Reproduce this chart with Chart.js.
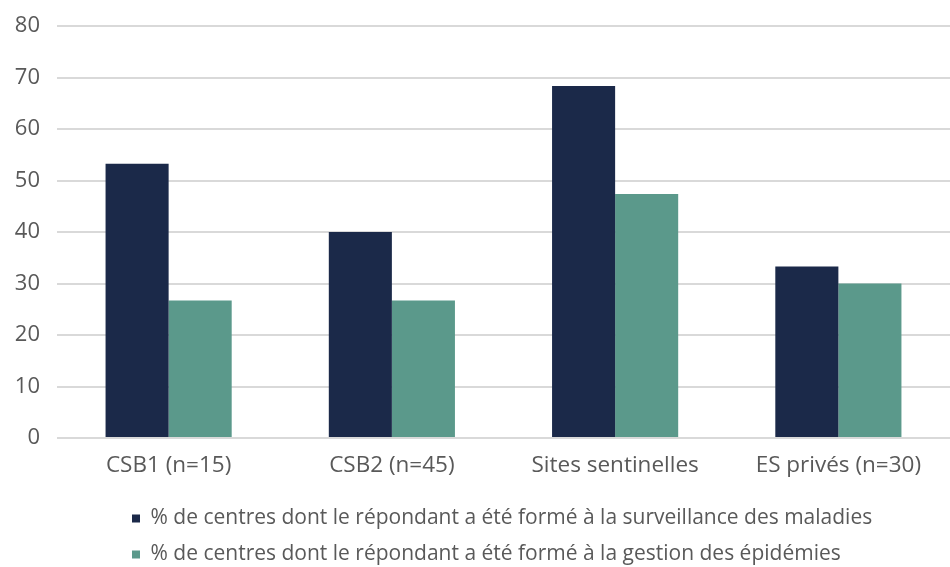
<!DOCTYPE html>
<html>
<head>
<meta charset="utf-8">
<script src="https://cdn.jsdelivr.net/npm/chart.js@4.4.0/dist/chart.umd.min.js"></script>
<style>
html,body{margin:0;padding:0;background:#fff;overflow:hidden;}
#wrap{width:950px;height:567px;position:relative;overflow:hidden;}
#c{position:absolute;left:0;top:-4px;}
</style>
</head>
<body>
<div id="wrap"><canvas id="c" width="950" height="579"></canvas></div>
<script>
const categories = ["CSB1 (n=15)", "CSB2 (n=45)", "Sites sentinelles", "ES privés (n=30)"];
const seriesNames = [
  "% de centres dont le répondant a été formé à la surveillance des maladies",
  "% de centres dont le répondant a été formé à la gestion des épidémies"
];
const surveillance = [53.3, 40.0, 68.4, 33.3];
const gestion = [26.7, 26.7, 47.4, 30.0];
const yTicks = [0, 10, 20, 30, 40, 50, 60, 70, 80];

const FONT = "'Open Sans', 'Noto Sans', sans-serif";
const TXT = "#595959";

const legendShift = {
  id: 'legendShift',
  afterLayout(chart) {
    const lg = chart.legend;
    if (!lg) return;
    const w = lg.width;
    lg.left = 117;
    lg.right = lg.left + w;
  }
};

new Chart(document.getElementById('c'), {
  type: 'bar',
  data: {
    labels: categories,
    datasets: [
      { label: seriesNames[0], data: surveillance, backgroundColor: '#1b2949', borderWidth: 0 },
      { label: seriesNames[1], data: gestion, backgroundColor: '#5b998b', borderWidth: 0 }
    ]
  },
  plugins: [legendShift],
  options: {
    responsive: false,
    animation: false,
    devicePixelRatio: 1,
    layout: { padding: { top: 7.5, right: 0, left: 0, bottom: 0 } },
    datasets: { bar: { barPercentage: 1.0, categoryPercentage: 0.565 } },
    scales: {
      y: {
        min: 0, max: 80,
        afterBuildTicks: (s) => { s.ticks = yTicks.map(v => ({ value: v })); },
        afterFit: (s) => { s.width = 57; },
        border: { display: false },
        grid: { color: '#d9d9d9', lineWidth: 2, drawTicks: false },
        ticks: { color: TXT, font: { family: FONT, size: 22 }, padding: 17 }
      },
      x: {
        afterFit: (s) => { s.height = 55; },
        border: { display: false },
        grid: { display: false, drawTicks: false },
        ticks: { color: TXT, font: { family: FONT, size: 22.5 }, padding: 14, maxRotation: 0 }
      }
    },
    plugins: {
      tooltip: { enabled: false },
      legend: {
        position: 'bottom',
        align: 'start',
        labels: {
          color: TXT,
          font: { family: FONT, size: 21 },
          boxWidth: 8, boxHeight: 8,
          padding: 15
        }
      }
    }
  }
});
</script>
</body>
</html>
